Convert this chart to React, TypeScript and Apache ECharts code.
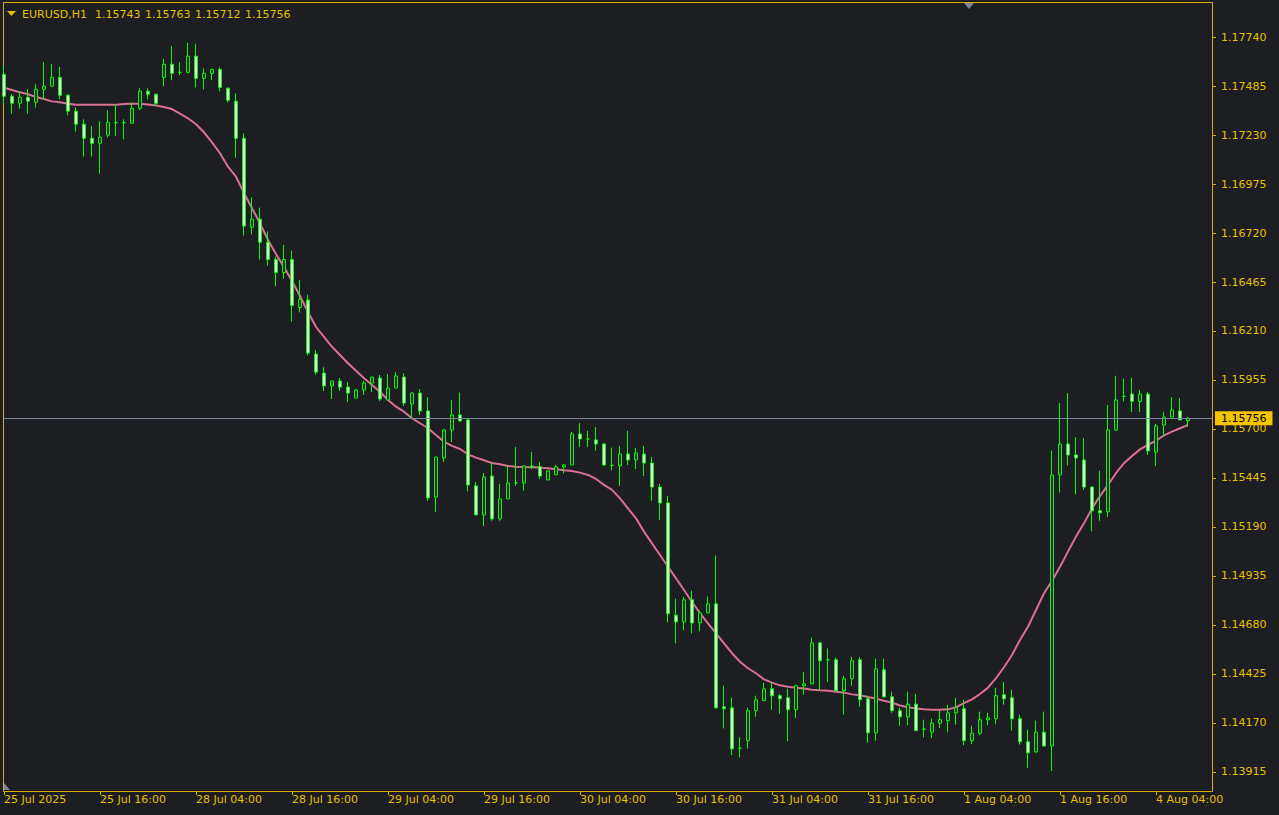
import { useEffect, useRef } from 'react';
import * as echarts from 'echarts';

// ---------- data ----------
const symbolName = 'EURUSD,H1';

// trading sessions: [day label, first hour, last hour]
const sessions: [string, number, number][] = [
  ['25 Jul', 4, 23],
  ['28 Jul', 0, 23],
  ['29 Jul', 0, 23],
  ['30 Jul', 0, 23],
  ['31 Jul', 0, 23],
  ['1 Aug', 0, 23],
  ['4 Aug', 0, 8],
];

const opens = [
  1.17546, 1.17432, 1.17395, 1.17426, 1.17400, 1.17468, 1.17484, 1.17530, 1.17437, 1.17354,
  1.17286, 1.17213, 1.17187, 1.17229, 1.17294, 1.17294, 1.17291, 1.17369, 1.17458, 1.17442,
  1.17530, 1.17598, 1.17556, 1.17556, 1.17640, 1.17525, 1.17551, 1.17572, 1.17473, 1.17406,
  1.17213, 1.16750, 1.16792, 1.16672, 1.16582, 1.16514, 1.16582, 1.16332, 1.16371, 1.16090,
  1.15991, 1.15924, 1.15950, 1.15918, 1.15861, 1.15903, 1.15939, 1.15965, 1.15851, 1.15913,
  1.15970, 1.15830, 1.15887, 1.15794, 1.15346, 1.15549, 1.15695, 1.15773, 1.15747, 1.15404,
  1.15253, 1.15455, 1.15232, 1.15336, 1.15419, 1.15419, 1.15508, 1.15503, 1.15435, 1.15461,
  1.15503, 1.15513, 1.15674, 1.15648, 1.15643, 1.15622, 1.15511, 1.15508, 1.15570, 1.15539,
  1.15570, 1.15523, 1.15398, 1.15315, 1.14731, 1.14696, 1.14811, 1.14691, 1.14743, 1.14790,
  1.14254, 1.14249, 1.14039, 1.14078, 1.14234, 1.14286, 1.14348, 1.14312, 1.14301, 1.14239,
  1.14364, 1.14374, 1.14587, 1.14499, 1.14499, 1.14338, 1.14400, 1.14499, 1.14296, 1.14119,
  1.14447, 1.14306, 1.14234, 1.14202, 1.14268, 1.14138, 1.14122, 1.14169, 1.14182, 1.14223,
  1.14244, 1.14078, 1.14117, 1.14187, 1.14192, 1.14317, 1.14301, 1.14192, 1.14072, 1.14020,
  1.14122, 1.14050, 1.15461, 1.15622, 1.15565, 1.15539, 1.15398, 1.15274, 1.15269, 1.15695,
  1.15870, 1.15882, 1.15844, 1.15882, 1.15580, 1.15721, 1.15762, 1.15794, 1.15743,
];

const highs = [
  1.17589, 1.17442, 1.17456, 1.17468, 1.17494, 1.17610, 1.17600, 1.17584, 1.17442, 1.17374,
  1.17312, 1.17276, 1.17302, 1.17359, 1.17390, 1.17312, 1.17400, 1.17473, 1.17473, 1.17447,
  1.17626, 1.17693, 1.17608, 1.17709, 1.17704, 1.17577, 1.17574, 1.17582, 1.17478, 1.17447,
  1.17239, 1.16906, 1.16852, 1.16728, 1.16598, 1.16658, 1.16627, 1.16476, 1.16398, 1.16111,
  1.16022, 1.15950, 1.15965, 1.15944, 1.15908, 1.15950, 1.15972, 1.15981, 1.15986, 1.15996,
  1.15991, 1.15892, 1.15908, 1.15866, 1.15554, 1.15700, 1.15851, 1.15889, 1.15757, 1.15424,
  1.15471, 1.15523, 1.15414, 1.15508, 1.15606, 1.15510, 1.15580, 1.15528, 1.15482, 1.15513,
  1.15515, 1.15684, 1.15731, 1.15690, 1.15710, 1.15627, 1.15603, 1.15612, 1.15690, 1.15601,
  1.15612, 1.15554, 1.15414, 1.15352, 1.14816, 1.14826, 1.14858, 1.14755, 1.14828, 1.15041,
  1.14365, 1.14303, 1.14096, 1.14249, 1.14312, 1.14379, 1.14384, 1.14322, 1.14348, 1.14369,
  1.14436, 1.14615, 1.14590, 1.14558, 1.14510, 1.14416, 1.14514, 1.14514, 1.14312, 1.14504,
  1.14504, 1.14333, 1.14249, 1.14333, 1.14322, 1.14187, 1.14192, 1.14234, 1.14265, 1.14299,
  1.14291, 1.14156, 1.14229, 1.14223, 1.14353, 1.14384, 1.14343, 1.14213, 1.14135, 1.14182,
  1.14229, 1.15587, 1.15835, 1.15887, 1.15658, 1.15653, 1.15400, 1.15482, 1.15825, 1.15977,
  1.15962, 1.15967, 1.15904, 1.15892, 1.15726, 1.15788, 1.15866, 1.15861, 1.15763,
];

const lows = [
  1.17392, 1.17341, 1.17367, 1.17341, 1.17372, 1.17416, 1.17484, 1.17416, 1.17333, 1.17248,
  1.17118, 1.17118, 1.17029, 1.17218, 1.17224, 1.17208, 1.17291, 1.17359, 1.17416, 1.17380,
  1.17482, 1.17515, 1.17541, 1.17551, 1.17478, 1.17468, 1.17515, 1.17458, 1.17400, 1.17112,
  1.16707, 1.16712, 1.16582, 1.16551, 1.16442, 1.16483, 1.16260, 1.16306, 1.16083, 1.15984,
  1.15898, 1.15856, 1.15898, 1.15840, 1.15861, 1.15877, 1.15892, 1.15846, 1.15851, 1.15913,
  1.15820, 1.15752, 1.15773, 1.15326, 1.15268, 1.15528, 1.15632, 1.15737, 1.15376, 1.15253,
  1.15196, 1.15222, 1.15222, 1.15336, 1.15404, 1.15378, 1.15492, 1.15440, 1.15435, 1.15461,
  1.15469, 1.15513, 1.15606, 1.15606, 1.15586, 1.15508, 1.15485, 1.15404, 1.15513, 1.15492,
  1.15455, 1.15326, 1.15227, 1.14694, 1.14585, 1.14653, 1.14637, 1.14648, 1.14743, 1.14245,
  1.14142, 1.14003, 1.13992, 1.14036, 1.14202, 1.14286, 1.14239, 1.14218, 1.14076, 1.14197,
  1.14317, 1.14374, 1.14338, 1.14384, 1.14333, 1.14213, 1.14364, 1.14254, 1.14067, 1.14078,
  1.14306, 1.14223, 1.14156, 1.14159, 1.14128, 1.14096, 1.14091, 1.14143, 1.14122, 1.14161,
  1.14055, 1.14060, 1.14107, 1.14159, 1.14164, 1.14265, 1.14130, 1.14057, 1.13935, 1.14015,
  1.14050, 1.13920, 1.15370, 1.15511, 1.15360, 1.15383, 1.15168, 1.15222, 1.15243, 1.15690,
  1.15844, 1.15788, 1.15788, 1.15565, 1.15506, 1.15662, 1.15762, 1.15747, 1.15712,
];

const closes = [
  1.17432, 1.17395, 1.17426, 1.17406, 1.17468, 1.17484, 1.17530, 1.17437, 1.17354, 1.17286,
  1.17213, 1.17187, 1.17218, 1.17296, 1.17294, 1.17294, 1.17369, 1.17458, 1.17442, 1.17395,
  1.17598, 1.17551, 1.17556, 1.17640, 1.17525, 1.17551, 1.17572, 1.17478, 1.17411, 1.17213,
  1.16756, 1.16792, 1.16672, 1.16582, 1.16514, 1.16582, 1.16343, 1.16374, 1.16095, 1.15996,
  1.15924, 1.15950, 1.15918, 1.15887, 1.15903, 1.15939, 1.15970, 1.15856, 1.15913, 1.15976,
  1.15835, 1.15887, 1.15794, 1.15341, 1.15554, 1.15695, 1.15773, 1.15742, 1.15409, 1.15253,
  1.15450, 1.15232, 1.15336, 1.15419, 1.15419, 1.15508, 1.15503, 1.15455, 1.15482, 1.15503,
  1.15513, 1.15674, 1.15648, 1.15648, 1.15622, 1.15513, 1.15511, 1.15570, 1.15539, 1.15575,
  1.15523, 1.15398, 1.15315, 1.14738, 1.14696, 1.14811, 1.14691, 1.14743, 1.14790, 1.14249,
  1.14244, 1.14036, 1.14039, 1.14234, 1.14291, 1.14348, 1.14312, 1.14296, 1.14239, 1.14364,
  1.14374, 1.14587, 1.14494, 1.14499, 1.14338, 1.14400, 1.14494, 1.14291, 1.14119, 1.14452,
  1.14306, 1.14234, 1.14202, 1.14268, 1.14130, 1.14138, 1.14169, 1.14187, 1.14223, 1.14249,
  1.14078, 1.14117, 1.14187, 1.14197, 1.14312, 1.14296, 1.14192, 1.14072, 1.14015, 1.14122,
  1.14050, 1.15461, 1.15622, 1.15565, 1.15549, 1.15398, 1.15274, 1.15264, 1.15695, 1.15851,
  1.15870, 1.15844, 1.15882, 1.15586, 1.15716, 1.15762, 1.15799, 1.15747, 1.15756,
];

// smoothed moving average (pink line)
const maValues = [
  1.17476, 1.17464, 1.17452, 1.17442, 1.17428, 1.17417, 1.17405, 1.17400, 1.17393, 1.17388,
  1.17388, 1.17388, 1.17388, 1.17388, 1.17388, 1.17391, 1.17393, 1.17393, 1.17389, 1.17384,
  1.17376, 1.17365, 1.17341, 1.17317, 1.17286, 1.17244, 1.17192, 1.17135, 1.17065, 1.17013,
  1.16928, 1.16849, 1.16771, 1.16684, 1.16611, 1.16543, 1.16470, 1.16392, 1.16309, 1.16232,
  1.16180, 1.16128, 1.16085, 1.16042, 1.16003, 1.15964, 1.15929, 1.15894, 1.15851, 1.15816,
  1.15790, 1.15756, 1.15730, 1.15704, 1.15669, 1.15634, 1.15612, 1.15596, 1.15568, 1.15551,
  1.15537, 1.15523, 1.15516, 1.15508, 1.15504, 1.15502, 1.15501, 1.15499, 1.15496, 1.15490,
  1.15485, 1.15481, 1.15473, 1.15461, 1.15440, 1.15409, 1.15383, 1.15339, 1.15287, 1.15235,
  1.15166, 1.15105, 1.15044, 1.14983, 1.14923, 1.14862, 1.14801, 1.14741, 1.14689, 1.14637,
  1.14585, 1.14533, 1.14489, 1.14455, 1.14429, 1.14397, 1.14380, 1.14366, 1.14359, 1.14354,
  1.14349, 1.14343, 1.14340, 1.14338, 1.14333, 1.14328, 1.14319, 1.14314, 1.14305, 1.14297,
  1.14286, 1.14276, 1.14261, 1.14252, 1.14245, 1.14241, 1.14239, 1.14239, 1.14241, 1.14252,
  1.14273, 1.14293, 1.14321, 1.14354, 1.14403, 1.14460, 1.14524, 1.14602, 1.14671, 1.14758,
  1.14845, 1.14909, 1.14983, 1.15062, 1.15140, 1.15209, 1.15287, 1.15351, 1.15409, 1.15470,
  1.15522, 1.15560, 1.15594, 1.15617, 1.15639, 1.15667, 1.15686, 1.15704, 1.15721,
];

const xTickLabels = [
  '25 Jul 2025', '25 Jul 16:00', '28 Jul 04:00', '28 Jul 16:00', '29 Jul 04:00',
  '29 Jul 16:00', '30 Jul 04:00', '30 Jul 16:00', '31 Jul 04:00', '31 Jul 16:00',
  '1 Aug 04:00', '1 Aug 16:00', '4 Aug 04:00',
];

const yTickValues = [
  1.13915, 1.1417, 1.14425, 1.1468, 1.14935, 1.1519, 1.15445, 1.157,
  1.15955, 1.1621, 1.16465, 1.1672, 1.16975, 1.1723, 1.17485, 1.1774,
];

// ---------- styling ----------
const BG = '#1d1e22';
const LINE_GOLD = '#d9ad08';
const TEXT_GOLD = '#e8c000';
const CANDLE_GREEN = '#00ff00';
const MA_COLOR = '#db7093';
const BID_LINE = '#778899';
const PRICE_BOX = '#f5c400';
const FONT = '"DejaVu Sans", sans-serif';
const SHIFT_BARS = 3;
const LABEL_EVERY = 12;

export default function App() {
  const ref = useRef<HTMLDivElement>(null);

  useEffect(() => {
    if (!ref.current) return;
    const chart = echarts.init(ref.current, undefined, { renderer: 'svg' });

    const barTimes: string[] = [];
    sessions.forEach(([d, a, b]) => {
      for (let h = a; h <= b; h++) barTimes.push(`${d} ${String(h).padStart(2, '0')}:00`);
    });
    const nBars = barTimes.length;
    const categories = [...barTimes, ...Array(SHIFT_BARS).fill('')];
    const candleData: any[] = opens.map((o, i) => [o, closes[i], lows[i], highs[i]]);
    for (let k = 0; k < SHIFT_BARS; k++) candleData.push('-');
    const maData: any[] = [...maValues, ...Array(SHIFT_BARS).fill('-')];

    const last = nBars - 1;
    const lastPrice = closes[last];
    const headerValues = [opens[last], highs[last], lows[last], closes[last]];

    const showTick = (idx: number) => idx % LABEL_EVERY === 0 && idx < nBars;

    chart.setOption({
      animation: false,
      backgroundColor: BG,
      textStyle: { fontFamily: FONT },
      grid: {
        left: 4,
        top: 3,
        width: 1208,
        height: 788,
        containLabel: false,
        outerBoundsMode: 'none',
      },
      xAxis: {
        type: 'category',
        data: categories,
        boundaryGap: false,
        axisLine: { show: false },
        axisTick: {
          show: true,
          interval: (idx: number) => showTick(idx),
          length: 4,
          lineStyle: { color: LINE_GOLD, width: 1 },
        },
        axisLabel: {
          show: true,
          interval: (idx: number) => showTick(idx),
          formatter: (_v: string, idx: number) => xTickLabels[idx / LABEL_EVERY] ?? '',
          align: 'left',
          margin: 3,
          color: TEXT_GOLD,
          fontSize: 11,
          fontFamily: FONT,
        },
        splitLine: { show: false },
      },
      yAxis: {
        type: 'value',
        position: 'right',
        min: 1.1381612,
        max: 1.1791694,
        axisLine: { show: false },
        axisTick: {
          show: true,
          customValues: yTickValues,
          length: 4,
          lineStyle: { color: LINE_GOLD, width: 1 },
        },
        axisLabel: {
          show: true,
          customValues: yTickValues,
          formatter: (v: number) => v.toFixed(5),
          margin: 9,
          color: TEXT_GOLD,
          fontSize: 11,
          fontFamily: FONT,
        },
        splitLine: { show: false },
      },
      series: [
        {
          name: 'MA',
          type: 'line',
          data: maData,
          showSymbol: false,
          symbol: 'none',
          z: 1,
          lineStyle: { color: MA_COLOR, width: 2 },
          emphasis: { disabled: true },
          markLine: {
            silent: true,
            precision: 5,
            symbol: ['none', 'none'],
            lineStyle: { color: BID_LINE, width: 1, type: 'solid' },
            emphasis: { disabled: true },
            label: {
              show: true,
              position: 'end',
              distance: 3,
              formatter: () => lastPrice.toFixed(5),
              backgroundColor: PRICE_BOX,
              color: '#000000',
              padding: [2, 6, 1, 6],
              fontSize: 11,
              fontFamily: FONT,
            },
            data: [{ yAxis: lastPrice }],
          },
        },
        {
          name: symbolName,
          type: 'candlestick',
          data: candleData,
          barWidth: 4,
          clip: false,
          z: 2,
          emphasis: { disabled: true },
          itemStyle: {
            color: BG,
            color0: '#ffffff',
            borderColor: CANDLE_GREEN,
            borderColor0: CANDLE_GREEN,
            borderColorDoji: CANDLE_GREEN,
            borderWidth: 1,
          },
        },
      ],
      graphic: [
        {
          type: 'rect',
          silent: true,
          z: 0,
          shape: { x: 3.5, y: 2.5, width: 1209, height: 789 },
          style: { fill: 'none', stroke: LINE_GOLD, lineWidth: 1 },
        },
        {
          type: 'polygon',
          silent: true,
          shape: { points: [[7, 11], [16, 11], [11.5, 16]] },
          style: { fill: TEXT_GOLD },
        },
        {
          type: 'text',
          silent: true,
          x: 22,
          y: 14,
          style: { text: symbolName, fill: TEXT_GOLD, font: `11px ${FONT}`, verticalAlign: 'middle' },
        },
        ...headerValues.map((v, k) => ({
          type: 'text',
          silent: true,
          x: 95 + 50 * k,
          y: 14,
          style: { text: v.toFixed(5), fill: TEXT_GOLD, font: `11px ${FONT}`, verticalAlign: 'middle' },
        })),
        {
          type: 'polygon',
          silent: true,
          shape: { points: [[964, 3], [974, 3], [969, 9]] },
          style: { fill: '#7b8593' },
        },
        {
          type: 'polygon',
          silent: true,
          shape: { points: [[4, 783], [4, 790], [10, 790]] },
          style: { fill: '#7b8593' },
        },
      ],
    });

    return () => chart.dispose();
  }, []);

  return (
    <div
      ref={ref}
      style={{ position: 'absolute', left: 0, top: 0, width: 1279, height: 815 }}
    />
  );
}
